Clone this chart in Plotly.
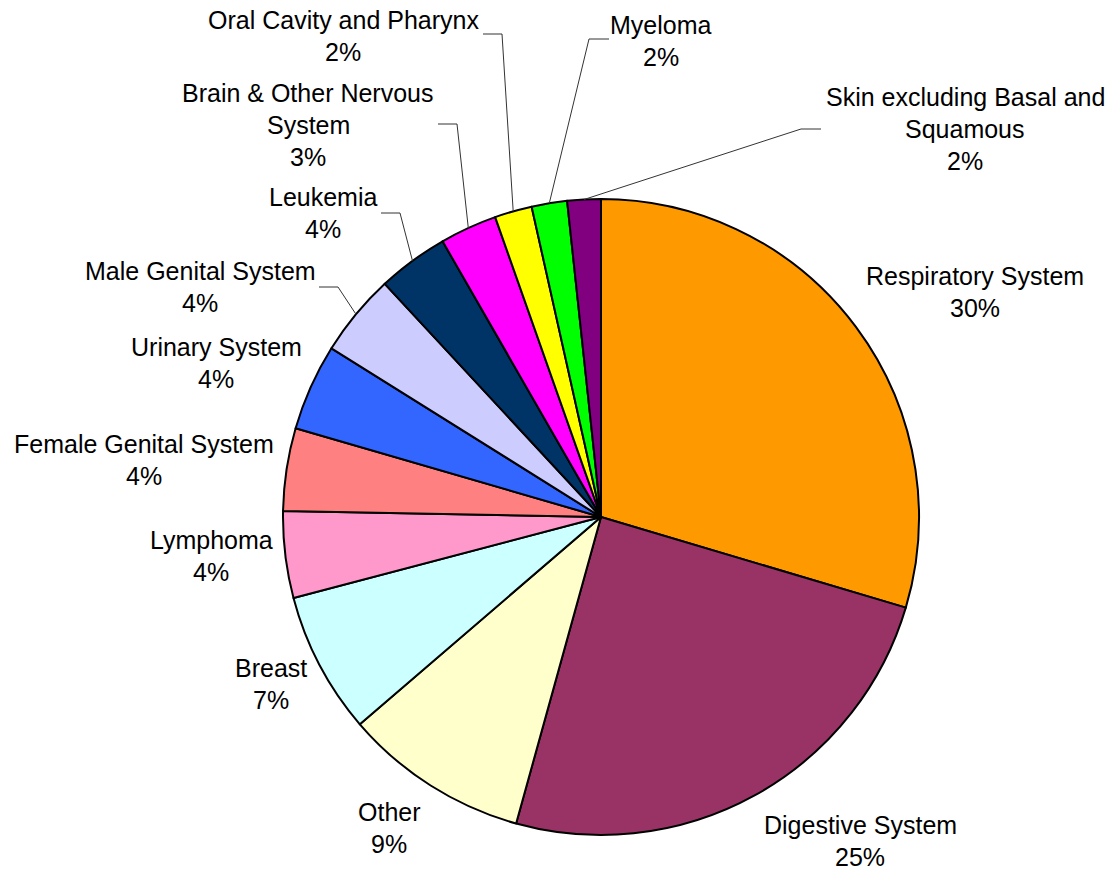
import math
import plotly.graph_objects as go

# ---- data ----
categories = ["Respiratory System", "Digestive System", "Other", "Breast", "Lymphoma",
              "Female Genital System", "Urinary System", "Male Genital System", "Leukemia",
              "Brain & Other Nervous System", "Oral Cavity and Pharynx", "Myeloma",
              "Skin excluding Basal and Squamous"]
values = [29.6, 24.7, 9.4, 7.2, 4.4, 4.2, 4.4, 4.2, 3.6, 2.9, 1.9, 1.8, 1.7]
colors = ["#FF9900", "#993366", "#FFFFCC", "#CCFFFF", "#FF99CC", "#FF8080", "#3366FF",
          "#CCCCFF", "#003366", "#FF00FF", "#FFFF00", "#00FF00", "#800080"]

# ---- layout (pixels in a 1112x870 canvas) ----
W, H = 1112, 870
CX, CY, R = 601, 517, 318
FONT = dict(family="Liberation Sans, Arial, sans-serif", size=25, color="black")
LINE_H = 32
wrap = {"Brain & Other Nervous System": ["Brain & Other Nervous", "System"],
        "Skin excluding Basal and Squamous": ["Skin excluding Basal and", "Squamous"]}
# label block center x, first-line center y
label_pos = {
    "Respiratory System": (975, 276),
    "Digestive System": (860, 825),
    "Other": (389, 812),
    "Breast": (271, 668),
    "Lymphoma": (211, 540),
    "Female Genital System": (144, 444),
    "Urinary System": (216, 347),
    "Male Genital System": (200, 271),
    "Leukemia": (323, 197),
    "Brain & Other Nervous System": (308, 93),
    "Oral Cavity and Pharynx": (343, 20),
    "Myeloma": (661, 25),
    "Skin excluding Basal and Squamous": (965, 97),
}
# leader lines: (x start, x end of horizontal part, y)
leaders = {
    "Male Genital System": (319, 338, 287),
    "Leukemia": (381, 400, 213),
    "Brain & Other Nervous System": (438, 457, 124),
    "Oral Cavity and Pharynx": (483, 502, 34),
    "Myeloma": (609, 589, 39),
    "Skin excluding Basal and Squamous": (821, 801, 129),
}

fig = go.Figure()
fig.add_trace(go.Pie(
    labels=categories, values=values, sort=False, direction="clockwise", rotation=0,
    marker=dict(colors=colors, line=dict(color="black", width=2)),
    textinfo="none", hoverinfo="label+percent", showlegend=False,
    domain=dict(x=[(CX - R) / W, (CX + R) / W], y=[(H - CY - R) / H, (H - CY + R) / H]),
))

total = sum(values)
annotations = []
shapes = []
cum = 0.0
for name, v in zip(categories, values):
    pct = f"{round(v / total * 100)}%"
    mid = (cum + v / 2) / total * 2 * math.pi
    cum += v
    lines = wrap.get(name, [name]) + [pct]
    x0, y0 = label_pos[name]
    for i, t in enumerate(lines):
        annotations.append(dict(x=x0, y=y0 + i * LINE_H, xref="x", yref="y", text=t,
                                showarrow=False, xanchor="center", yanchor="middle", font=FONT))
    if name in leaders:
        xa, xb, yl = leaders[name]
        px = CX + R * math.sin(mid)
        py = CY - R * math.cos(mid)
        shapes.append(dict(type="path", xref="x", yref="y",
                           path=f"M {xa} {yl} L {xb} {yl} L {px:.1f} {py:.1f}",
                           line=dict(color="#333333", width=1)))

fig.update_layout(
    width=W, height=H, margin=dict(l=0, r=0, t=0, b=0),
    paper_bgcolor="white", plot_bgcolor="rgba(0,0,0,0)",
    xaxis=dict(range=[0, W], visible=False, domain=[0, 1], fixedrange=True),
    yaxis=dict(range=[H, 0], visible=False, domain=[0, 1], fixedrange=True),
    annotations=annotations, shapes=shapes,
)
fig.write_html("out.html", config={"displayModeBar": False},
               post_script="document.body.style.margin='0';")
